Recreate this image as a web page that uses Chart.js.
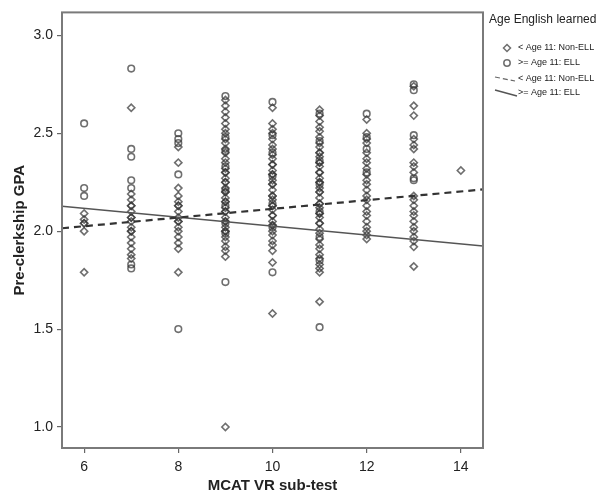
<!DOCTYPE html>
<html>
<head>
<meta charset="utf-8">
<title>Pre-clerkship GPA vs MCAT VR</title>
<script src="https://cdn.jsdelivr.net/npm/chart.js@4.4.1/dist/chart.umd.min.js"></script>
<style>
    html, body { margin: 0; padding: 0; background: #fff; }
    canvas { display: block; }
</style>
</head>
<body>
<canvas id="gpa-chart" width="611" height="498"></canvas>
<script>
// MCAT VR scores (x categories) and GPA readings per score
const scores = [6, 7, 8, 9, 10, 11, 12, 13, 14];

// < Age 11: Non-ELL (diamonds) — repeated values where the column looks darker
const nonEllGpa = [
    [2.09, 2.06, 2.04, 2.04, 2.00, 1.79],
    [2.63, 2.19, 2.16, 2.13, 2.13, 2.10, 2.07, 2.07, 2.05, 2.02, 2.00, 2.00, 1.97, 1.94, 1.91, 1.88, 1.86],
    [2.43, 2.35, 2.22, 2.18, 2.15, 2.13, 2.13, 2.10, 2.07, 2.05, 2.05, 2.02, 2.00, 1.97, 1.94, 1.91, 1.79],
    [2.67, 2.64, 2.61, 2.58, 2.55, 2.52, 2.50, 2.47, 2.45, 2.42, 2.40, 2.37, 2.35, 2.32, 2.30, 2.30, 2.27,
     2.25, 2.25, 2.22, 2.20, 2.20, 2.17, 2.15, 2.15, 2.12, 2.10, 2.10, 2.07, 2.05, 2.05, 2.02, 2.00, 2.00,
     1.97, 1.95, 1.92, 1.90, 1.87, 1.00],
    [2.63, 2.55, 2.52, 2.50, 2.47, 2.44, 2.42, 2.39, 2.37, 2.34, 2.34, 2.31, 2.29, 2.29, 2.26, 2.24, 2.24,
     2.21, 2.18, 2.18, 2.16, 2.13, 2.13, 2.11, 2.08, 2.08, 2.05, 2.03, 2.03, 2.00, 1.98, 1.95, 1.93, 1.90,
     1.84, 1.58],
    [2.62, 2.59, 2.56, 2.53, 2.51, 2.48, 2.45, 2.43, 2.40, 2.40, 2.38, 2.35, 2.35, 2.33, 2.30, 2.30, 2.27,
     2.25, 2.25, 2.22, 2.20, 2.20, 2.17, 2.14, 2.14, 2.12, 2.09, 2.09, 2.07, 2.04, 2.04, 2.01, 1.99, 1.96,
     1.93, 1.91, 1.88, 1.86, 1.83, 1.81, 1.79, 1.64],
    [2.57, 2.50, 2.47, 2.45, 2.40, 2.37, 2.35, 2.32, 2.29, 2.26, 2.24, 2.21, 2.18, 2.16, 2.13, 2.10, 2.08,
     2.05, 2.02, 2.00, 1.98, 1.96],
    [2.74, 2.64, 2.59, 2.47, 2.44, 2.42, 2.35, 2.33, 2.30, 2.18, 2.16, 2.13, 2.10, 2.08, 2.05, 2.02, 2.00,
     1.97, 1.95, 1.92, 1.82],
    [2.31],
];

// >= Age 11: ELL (circles)
const ellGpa = [
    [2.55, 2.22, 2.18],
    [2.83, 2.42, 2.38, 2.26, 2.22, 1.83, 1.81],
    [2.50, 2.47, 2.45, 2.29, 1.50],
    [2.69, 2.48, 2.41, 2.33, 2.21, 2.13, 2.04, 1.99, 1.74],
    [2.66, 2.49, 2.40, 2.28, 2.14, 2.02, 1.79],
    [2.60, 2.46, 2.36, 2.24, 2.10, 1.97, 1.85, 1.51],
    [2.60, 2.48, 2.42, 2.30],
    [2.75, 2.72, 2.49, 2.27, 2.26],
    [],
];

// fitted regression lines, evaluated at the ends of the x range
const fitX = [5.53, 14.47];
const nonEllFit = [2.015, 2.213];
const ellFit = [2.127, 1.924];

const xTicks = [6, 8, 10, 12, 14];
const yTicks = [1.0, 1.5, 2.0, 2.5, 3.0];

const legendTitle = 'Age English learned';
const legendLabels = ['< Age 11: Non-ELL', '>= Age 11: ELL', '< Age 11: Non-ELL', '>= Age 11: ELL'];

const FONT = '"Liberation Sans", Arial, Helvetica, sans-serif';
const MARK = 'rgba(55, 55, 55, 0.72)';
const FRAME = '#7a7a7a';

function toPoints(lists) {
    const pts = [];
    lists.forEach((list, i) => list.forEach((g) => pts.push({ x: scores[i], y: g })));
    return pts;
}

const fitPoints = (ys) => fitX.map((x, i) => ({ x, y: ys[i] }));

// frame around the plot area
const framePlugin = {
    id: 'frame',
    afterDraw(chart) {
        const { ctx, chartArea: a } = chart;
        ctx.save();
        ctx.strokeStyle = FRAME;
        ctx.lineWidth = 2;
        ctx.strokeRect(a.left, a.top, a.right - a.left, a.bottom - a.top);
        ctx.restore();
    },
};

// SPSS-style legend to the right of the plot
const sideLegend = {
    id: 'sideLegend',
    afterDraw(chart) {
        const ctx = chart.ctx;
        const x0 = chart.chartArea.right + 6;
        ctx.save();
        ctx.fillStyle = '#222';
        ctx.textBaseline = 'middle';
        ctx.font = '12px ' + FONT;
        ctx.fillText(legendTitle, x0, 20);

        ctx.font = '9px ' + FONT;
        const rows = [48, 63, 79, 93];
        const tx = x0 + 29;
        legendLabels.forEach((t, i) => ctx.fillText(t, tx, rows[i]));

        ctx.strokeStyle = MARK;
        ctx.lineWidth = 1.5;
        // diamond
        const dx = x0 + 18;
        ctx.beginPath();
        ctx.moveTo(dx, rows[0] - 3.5);
        ctx.lineTo(dx + 3.5, rows[0]);
        ctx.lineTo(dx, rows[0] + 3.5);
        ctx.lineTo(dx - 3.5, rows[0]);
        ctx.closePath();
        ctx.stroke();
        // circle
        ctx.beginPath();
        ctx.arc(dx, rows[1], 3.2, 0, Math.PI * 2);
        ctx.stroke();
        // dashed fit line
        ctx.strokeStyle = '#666';
        ctx.setLineDash([5, 3]);
        ctx.lineWidth = 1.2;
        ctx.beginPath();
        ctx.moveTo(x0 + 6, rows[2] - 2);
        ctx.lineTo(x0 + 26, rows[2] + 2);
        ctx.stroke();
        // solid fit line
        ctx.setLineDash([]);
        ctx.strokeStyle = '#555';
        ctx.lineWidth = 1.5;
        ctx.beginPath();
        ctx.moveTo(x0 + 6, rows[3] - 3);
        ctx.lineTo(x0 + 28, rows[3] + 3);
        ctx.stroke();
        ctx.restore();
    },
};

const ctx = document.getElementById('gpa-chart').getContext('2d');

new Chart(ctx, {
    type: 'scatter',
    data: {
        datasets: [
            {
                type: 'line',
                label: '< Age 11: Non-ELL fit',
                data: fitPoints(nonEllFit),
                borderColor: '#333',
                borderWidth: 2.2,
                borderDash: [7, 5],
                pointRadius: 0,
                fill: false,
                order: 0,
            },
            {
                type: 'line',
                label: '>= Age 11: ELL fit',
                data: fitPoints(ellFit),
                borderColor: '#555',
                borderWidth: 1.4,
                pointRadius: 0,
                fill: false,
                order: 0,
            },
            {
                label: '< Age 11: Non-ELL',
                data: toPoints(nonEllGpa),
                pointStyle: 'rectRot',
                pointRadius: 3.6,
                pointBorderWidth: 1.6,
                pointBorderColor: MARK,
                pointBackgroundColor: 'rgba(255,255,255,0)',
                order: 1,
            },
            {
                label: '>= Age 11: ELL',
                data: toPoints(ellGpa),
                pointStyle: 'circle',
                pointRadius: 3.3,
                pointBorderWidth: 1.6,
                pointBorderColor: MARK,
                pointBackgroundColor: 'rgba(255,255,255,0)',
                order: 1,
            },
        ],
    },
    options: {
        responsive: false,
        animation: false,
        layout: { padding: { left: 0, top: 11, right: 128, bottom: 0 } },
        plugins: {
            legend: { display: false },
            tooltip: { enabled: false },
        },
        scales: {
            x: {
                type: 'linear',
                min: 5.53,
                max: 14.47,
                afterFit: (s) => { s.height = 50; },
                afterBuildTicks: (s) => { s.ticks = xTicks.map((v) => ({ value: v })); },
                border: { display: false },
                grid: { drawOnChartArea: false, drawTicks: true, tickLength: 5, color: '#666', lineWidth: 1.2 },
                ticks: { color: '#222', padding: 6, font: { family: FONT, size: 14 } },
                title: {
                    display: true,
                    text: 'MCAT VR sub-test',
                    color: '#222',
                    padding: { top: 0, bottom: 3 },
                    font: { family: FONT, size: 15, weight: 'bold' },
                },
            },
            y: {
                type: 'linear',
                min: 0.893,
                max: 3.117,
                afterFit: (s) => { s.width = 62; },
                afterBuildTicks: (s) => { s.ticks = yTicks.map((v) => ({ value: v })); },
                border: { display: false },
                grid: { drawOnChartArea: false, drawTicks: true, tickLength: 5, color: '#666', lineWidth: 1.2 },
                ticks: {
                    color: '#222',
                    padding: 4,
                    font: { family: FONT, size: 14 },
                    callback: (v) => Number(v).toFixed(1),
                },
                title: {
                    display: true,
                    text: 'Pre-clerkship GPA',
                    color: '#222',
                    padding: { top: 11, bottom: 0 },
                    font: { family: FONT, size: 15, weight: 'bold' },
                },
            },
        },
    },
    plugins: [framePlugin, sideLegend],
});
</script>
</body>
</html>
